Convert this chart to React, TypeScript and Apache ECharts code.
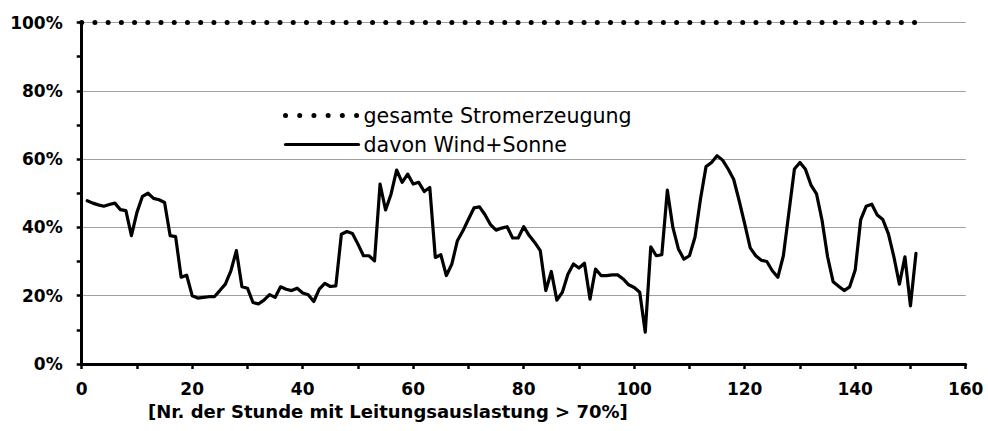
import React, { useEffect, useRef } from "react";
import * as echarts from "echarts";

// Share of wind+solar (%) for hours 1..151 with line load > 70 %
const windSonne: number[] = [
  47.8, 47.1, 46.6, 46.2, 46.7, 47.1, 45.2, 44.9, 37.6, 44.4,
  49.1, 50.0, 48.5, 48.1, 47.3, 37.6, 37.3, 25.4, 26.0, 20.0,
  19.3, 19.5, 19.7, 19.7, 21.5, 23.4, 27.3, 33.2, 22.6, 22.2,
  18.0, 17.6, 18.7, 20.3, 19.5, 22.6, 21.9, 21.5, 22.2, 20.8,
  20.3, 18.3, 21.9, 23.6, 22.7, 22.9, 38.0, 38.8, 38.2, 35.1,
  31.7, 31.7, 30.2, 52.7, 45.1, 49.8, 56.8, 53.2, 55.6, 52.7,
  53.2, 50.5, 51.7, 31.2, 32.0, 25.9, 29.3, 36.1, 39.0, 42.4,
  45.7, 46.0, 43.7, 40.8, 39.2, 39.8, 40.2, 36.9, 36.9, 40.2,
  37.6, 35.6, 33.2, 21.5, 27.1, 18.7, 21.0, 26.3, 29.3, 28.1,
  29.5, 19.0, 27.8, 25.9, 25.9, 26.1, 26.1, 24.9, 23.2, 22.4,
  21.0, 9.3, 34.3, 31.7, 32.0, 50.9, 40.0, 33.7, 30.7, 31.7,
  37.1, 48.3, 57.8, 59.0, 61.0, 59.7, 57.1, 54.1, 47.8, 41.0,
  34.0, 31.7, 30.4, 30.0, 27.3, 25.4, 31.7, 44.4, 57.1, 59.0,
  57.0, 52.4, 49.8, 42.1, 31.4, 24.1, 22.8, 21.5, 22.6, 27.5,
  42.3, 46.2, 46.8, 43.6, 42.3, 38.2, 31.4, 23.4, 31.4, 17.0,
  32.4,
];
const hours: number[] = windSonne.map((_, i) => i + 1);
// total generation = 100 % over hours 0..151
const gesamtStunden: number[] = [0, ...hours];
const gesamtWert = 100;
const gesamt: number[] = gesamtStunden.map(() => gesamtWert);

const seriesNames = ["gesamte Stromerzeugung", "davon Wind+Sonne"];
const xAxisTitle = "[Nr. der Stunde mit Leitungsauslastung > 70%]";
const xMin = 0, xMax = 160, xStep = 20;
const yMin = 0, yMax = 100, yStep = 20;

const dottedStyle = { color: "#000", width: 5, type: [0.01, 13.21], cap: "round" };
const solidStyle = { color: "#000", width: 3.2, type: "solid", join: "round", cap: "round" };

export default function App() {
  const ref = useRef<HTMLDivElement>(null);
  useEffect(() => {
    if (!ref.current) return;
    const chart = echarts.init(ref.current, null, { renderer: "svg" });
    const labelFont = {
      fontFamily: "DejaVu Sans",
      fontWeight: "bold" as const,
      fontSize: 17,
      color: "#000",
    };
    chart.setOption({
      animation: false,
      backgroundColor: "#fff",
      grid: { left: 81.7, right: 22.3, top: 22.5, bottom: 67, containLabel: false },
      legend: {
        orient: "vertical",
        left: 283,
        top: 105,
        padding: 0,
        itemWidth: 73,
        itemHeight: 14,
        itemGap: 8,
        itemStyle: { opacity: 0 },
        data: [
          { name: seriesNames[0], lineStyle: { ...dottedStyle, type: [0.01, 14.2] }, itemStyle: { opacity: 0 } },
          { name: seriesNames[1], lineStyle: solidStyle, itemStyle: { opacity: 0 } },
        ],
        textStyle: { fontFamily: "DejaVu Sans", fontSize: 20.6, color: "#000" },
      },
      xAxis: {
        type: "value",
        min: xMin,
        max: xMax,
        interval: xStep,
        axisLine: { show: true, lineStyle: { color: "#000", width: 3 } },
        axisTick: { show: true, length: 5, lineStyle: { color: "#000", width: 2.5 } },
        minorTick: { show: true, splitNumber: 2, length: 5, lineStyle: { color: "#000", width: 2.5 } },
        splitLine: { show: false },
        axisLabel: { ...labelFont, margin: 16 },
      },
      yAxis: {
        type: "value",
        min: yMin,
        max: yMax,
        interval: yStep,
        axisLine: { show: true, lineStyle: { color: "#000", width: 3 } },
        axisTick: { show: true, length: 5, lineStyle: { color: "#000", width: 2.5 } },
        minorTick: { show: true, splitNumber: 2, length: 5, lineStyle: { color: "#000", width: 2.5 } },
        splitLine: { show: true, lineStyle: { color: "#a0a0a0", width: 1.2 } },
        axisLabel: { ...labelFont, margin: 19, formatter: "{value}%" },
      },
      graphic: [
        {
          type: "text",
          left: 148,
          top: 402,
          style: { text: xAxisTitle, ...labelFont, fill: "#000", fontSize: 18 },
        },
      ],
      series: [
        {
          name: seriesNames[0],
          type: "line",
          data: gesamtStunden.map((h, i) => [h, gesamt[i]]),
          symbol: "none",
          lineStyle: dottedStyle,
          itemStyle: { color: "#000" },
          z: 3,
        },
        {
          name: seriesNames[1],
          type: "line",
          data: hours.map((h, i) => [h, windSonne[i]]),
          symbol: "none",
          lineStyle: solidStyle,
          itemStyle: { color: "#000" },
          z: 4,
        },
      ],
    });
    return () => chart.dispose();
  }, []);
  return (
    <div
      ref={ref}
      style={{ position: "fixed", left: 0, top: 0, width: 988, height: 431 }}
    />
  );
}
